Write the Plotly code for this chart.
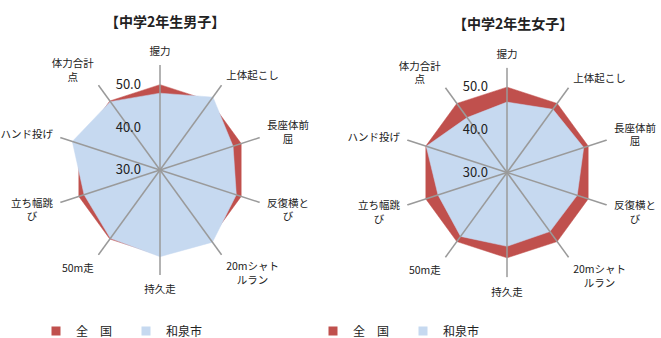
import plotly.graph_objects as go

# ---- data ----
categories = ['握力', '上体起こし', '長座体前屈', '反復横とび', '20mシャトルラン',
              '持久走', '50m走', '立ち幅跳び', 'ハンド投げ', '体力合計点']
# tick labels as wrapped in the original (ideographic / en spaces keep the 2nd line centred)
axis_labels = ['握力', '上体起こし', '長座体前<br>\u3000\u2002屈', '反復横と<br>\u3000\u2002び',
               '20mシャト<br>\u3000ルラン', '持久走', '50m走', '立ち幅跳<br>び\u3000\u2002',
               'ハンド投げ', '体力合計<br>点\u3000\u2002']
boys_national = [50.0, 50.0, 50.0, 50.0, 50.0, 50.0, 50.0, 50.0, 50.0, 50.0]
boys_izumi = [48.0, 51.1, 48.0, 48.8, 50.9, 50.3, 49.8, 48.7, 51.6, 49.8]
girls_national = [50.0, 50.0, 50.0, 50.0, 50.0, 50.0, 50.0, 50.0, 50.0, 50.0]
girls_izumi = [46.5, 48.3, 48.9, 47.3, 47.1, 47.3, 48.5, 47.0, 49.9, 45.9]
radial_range = [30, 54.6]
radial_ticks = [30, 40, 50]
radial_ticktext = ['30.0', '40.0', '50.0']
series_names = ['全　国', '和泉市']
titles = ['【中学2年生男子】', '【中学2年生女子】']

RED = '#C0504D'
BLUE = '#C6D9F0'
SPOKE = '#9A9A9A'
FONT = 'Noto Sans CJK JP'

fig = go.Figure()


def closed(vals):
    return list(vals) + [vals[0]]


def add_chart(subplot, legend, national, izumi):
    fig.add_trace(go.Scatterpolar(
        r=closed(national), theta=closed(categories), subplot=subplot,
        mode='lines', fill='toself', fillcolor=RED, line=dict(color=RED, width=0.5),
        showlegend=False, hoverinfo='skip'))
    fig.add_trace(go.Scatterpolar(
        r=closed(izumi), theta=closed(categories), subplot=subplot,
        mode='lines', fill='toself', fillcolor=BLUE, line=dict(color=BLUE, width=0.5),
        showlegend=False, hoverinfo='skip'))
    # spokes drawn above the fills
    rs, ts = [], []
    for c in categories:
        rs += [radial_range[0], radial_range[1], None]
        ts += [c, c, None]
    fig.add_trace(go.Scatterpolar(
        r=rs, theta=ts, subplot=subplot, mode='lines',
        line=dict(color=SPOKE, width=1.5), showlegend=False, hoverinfo='skip'))
    # legend entries
    for name, col in zip(series_names, [RED, BLUE]):
        fig.add_trace(go.Scatterpolar(
            r=[None], theta=[categories[0]], subplot=subplot, mode='markers',
            marker=dict(symbol='square', size=9, color=col), name=name,
            legend=legend, showlegend=True))


add_chart('polar', 'legend', boys_national, boys_izumi)
add_chart('polar2', 'legend2', girls_national, girls_izumi)

W, H = 661, 338


def px(x):
    return x / W


def py(y):
    return 1 - y / H


def polar_layout(cx, cy, rad):
    return dict(
        domain=dict(x=[px(cx - rad), px(cx + rad)], y=[py(cy + rad), py(cy - rad)]),
        bgcolor='white',
        radialaxis=dict(range=radial_range, tickvals=radial_ticks, ticktext=radial_ticktext,
                        showline=False, showgrid=False, ticks='outside', ticklen=14,
                        tickcolor='rgba(0,0,0,0)', angle=90,
                        side='counterclockwise', tickangle=90,
                        tickfont=dict(size=13, color='#222', family=FONT)),
        angularaxis=dict(rotation=90, direction='clockwise', showgrid=False,
                         showline=False, ticks='outside', ticklen=5,
                         tickcolor='rgba(0,0,0,0)',
                         categoryorder='array', categoryarray=categories,
                         tickmode='array', tickvals=categories, ticktext=axis_labels,
                         tickfont=dict(size=10.5, color='#222', family=FONT)),
    )


legend_common = dict(orientation='h', yanchor='middle', y=py(331), xanchor='left',
                     font=dict(size=12, color='#222', family=FONT),
                     bgcolor='rgba(0,0,0,0)', entrywidth=45, entrywidthmode='pixels',
                     itemwidth=30, tracegroupgap=0)

fig.update_layout(
    width=W, height=H,
    margin=dict(l=0, r=0, t=0, b=0, autoexpand=False),
    paper_bgcolor='white',
    font=dict(family=FONT, color='#222'),
    polar=polar_layout(160, 170, 105),
    polar2=polar_layout(507, 172.5, 105),
    legend=dict(legend_common, x=px(36)),
    legend2=dict(legend_common, x=px(313)),
    annotations=[
        dict(text='<b>' + titles[0] + '</b>', x=px(165), y=py(21), xref='paper', yref='paper',
             xanchor='center', yanchor='middle', showarrow=False,
             font=dict(size=14, color='#222', family=FONT)),
        dict(text='<b>' + titles[1] + '</b>', x=px(513), y=py(23), xref='paper', yref='paper',
             xanchor='center', yanchor='middle', showarrow=False,
             font=dict(size=14, color='#222', family=FONT)),
    ],
)

# remove the default 8px page margin so the 661x338 figure fills the window
fig.write_html('out.html', config={'displayModeBar': False},
               post_script="document.body.style.margin='0px';")
